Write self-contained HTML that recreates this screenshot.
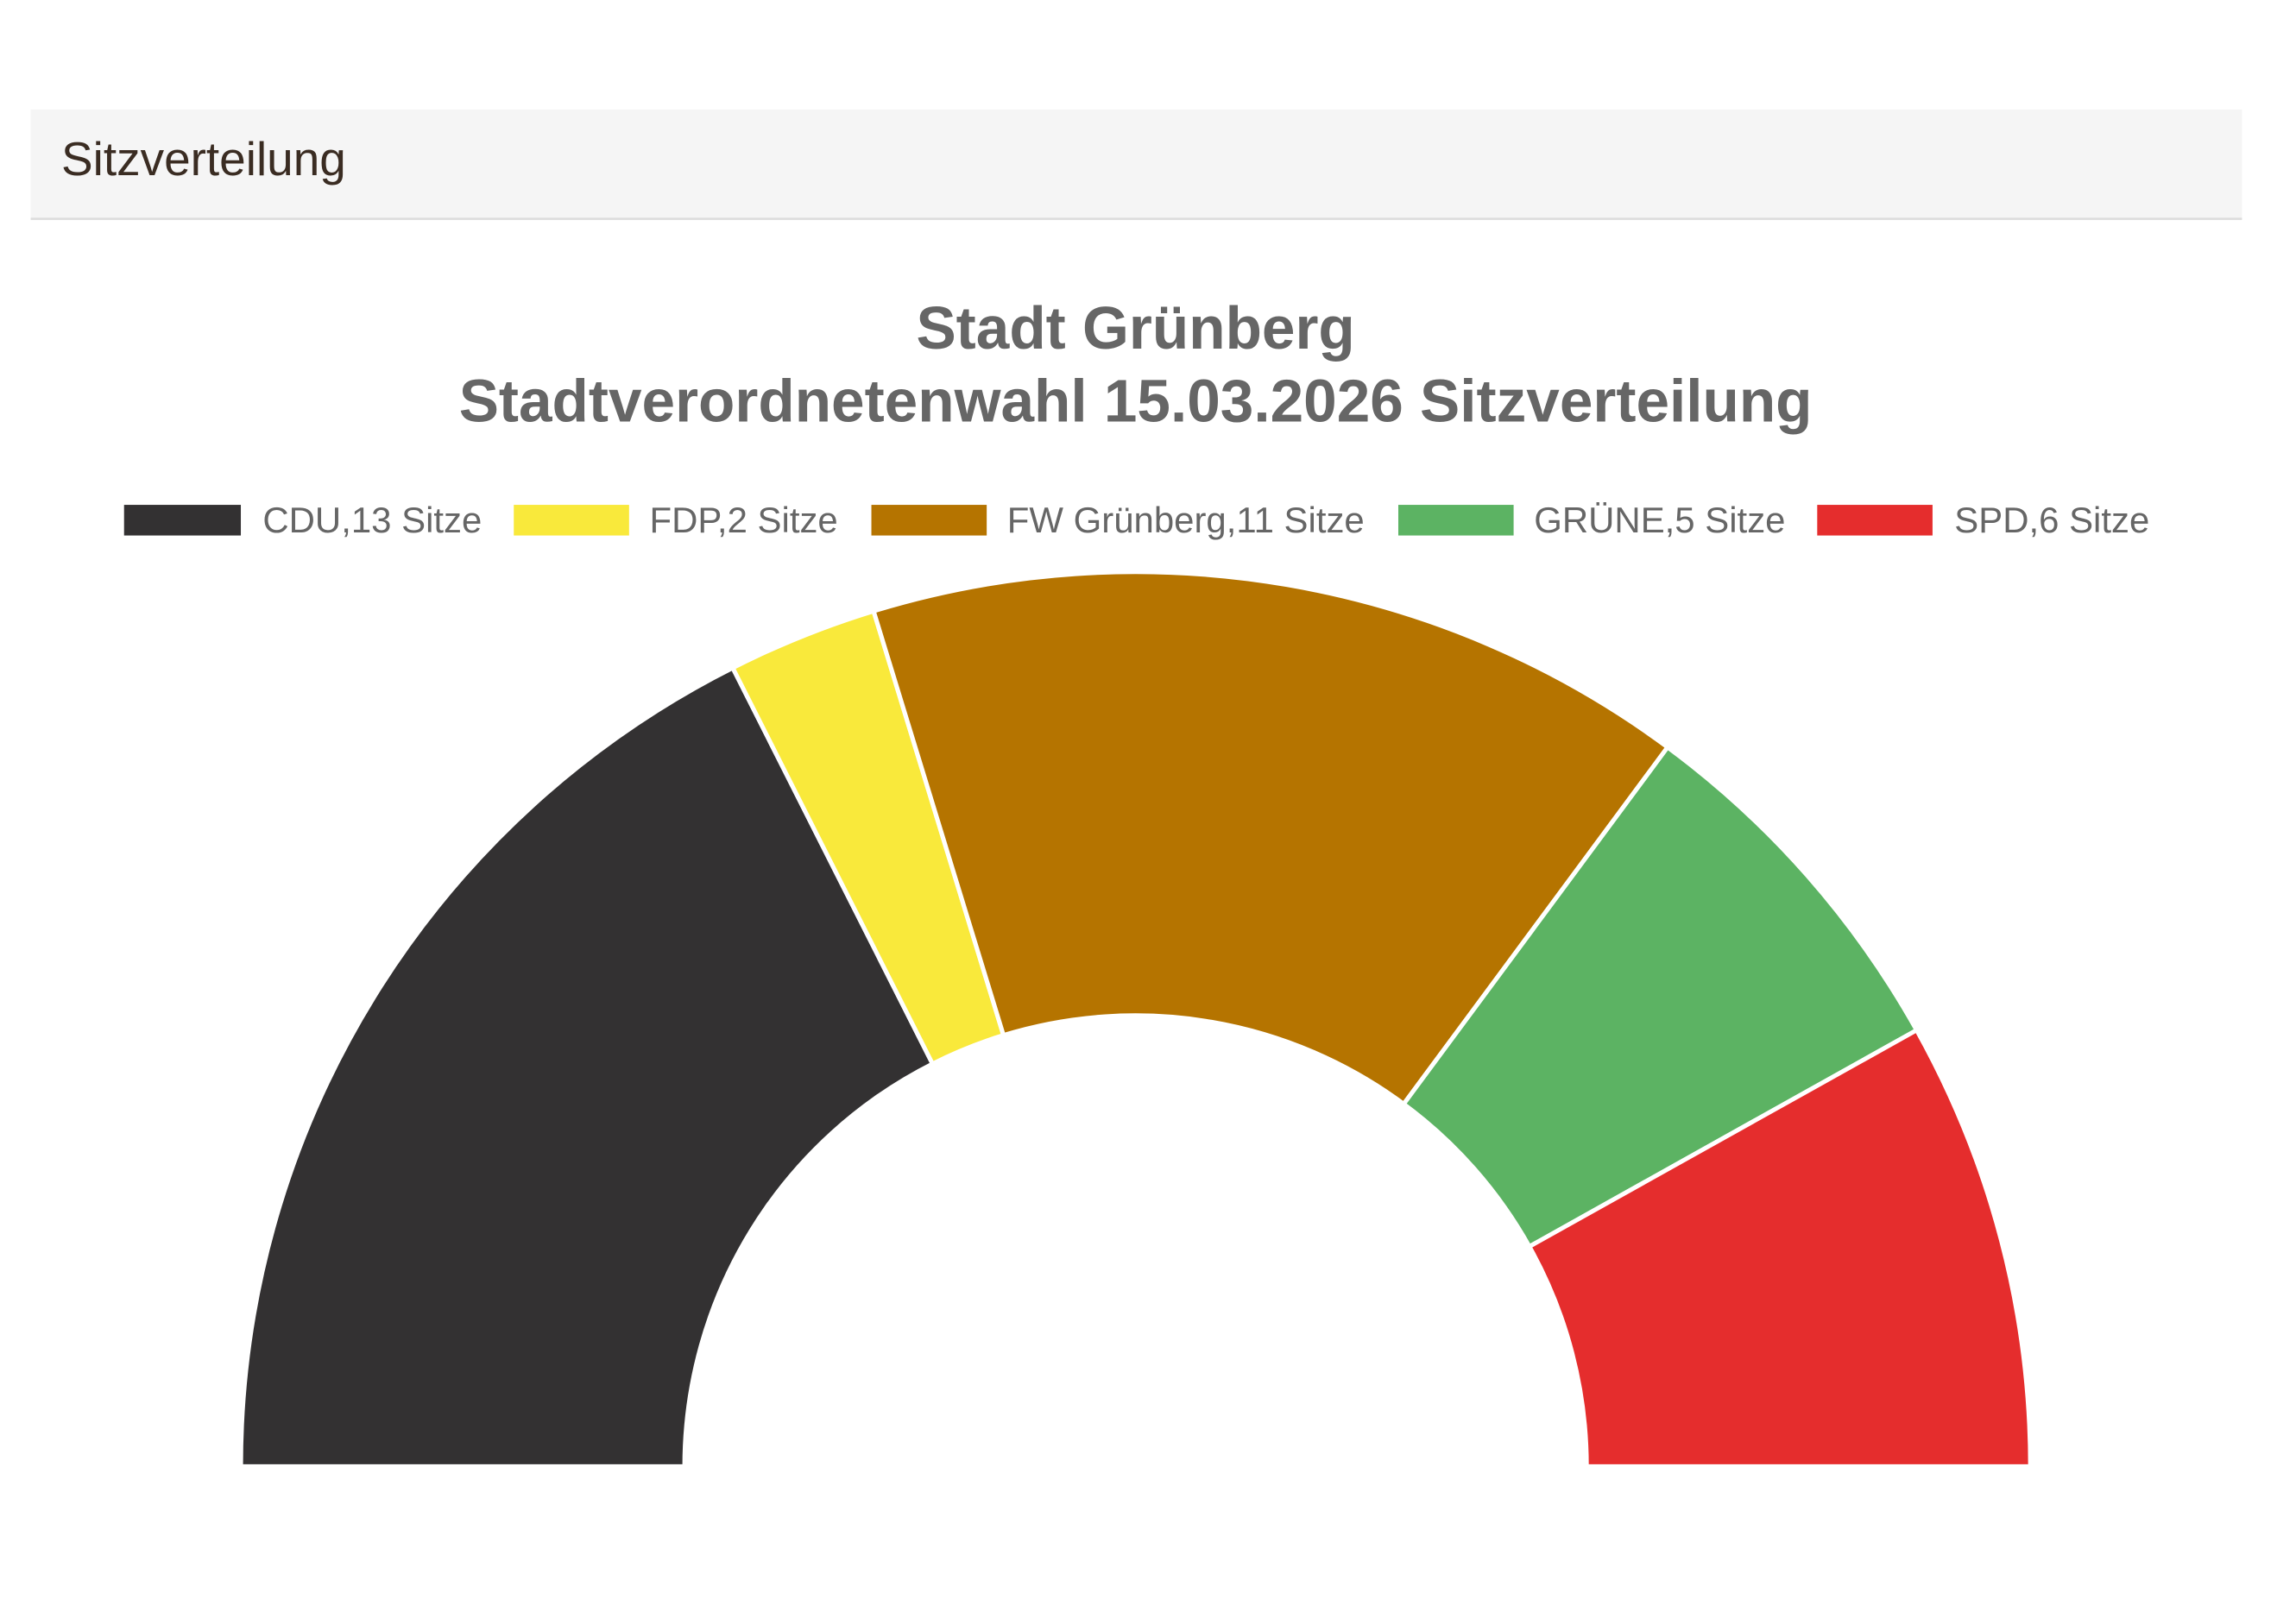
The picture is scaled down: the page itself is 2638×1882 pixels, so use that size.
<!DOCTYPE html>
<html><head><meta charset="utf-8"><style>
html,body{margin:0;padding:0;background:#fff;}
svg{display:block;}
</style></head><body>
<svg width="2638" height="1882" viewBox="0 0 1560 1113" preserveAspectRatio="none" xmlns="http://www.w3.org/2000/svg">
<rect x="0" y="0" width="1560" height="1113" fill="#fff"/>
<rect x="21" y="75" width="1515" height="75" fill="#f5f5f5"/>
<line x1="21" y1="150" x2="1536" y2="150" stroke="#dcdcdc" stroke-width="1.5"/>
<text x="42" y="120" font-family="Liberation Sans, sans-serif" font-size="32.5" fill="#3a2c22">Sitzverteilung</text>
<g font-family="Liberation Sans, sans-serif" font-weight="bold" font-size="41" fill="#666" text-anchor="middle">
<text x="778" y="239">Stadt Grünberg</text>
<text x="778" y="289">Stadtverordnetenwahl 15.03.2026 Sitzverteilung</text>
</g>
<g font-family="Liberation Sans, sans-serif" font-size="24.8" fill="#666">
<rect x="85" y="346" width="80" height="21" fill="#333132"/><text x="180" y="365">CDU,13 Sitze</text>
<rect x="352" y="346" width="79" height="21" fill="#f9e93b"/><text x="445" y="365">FDP,2 Sitze</text>
<rect x="597" y="346" width="79" height="21" fill="#b57400"/><text x="690" y="365">FW Grünberg,11 Sitze</text>
<rect x="958" y="346" width="79" height="21" fill="#5cb363"/><text x="1051" y="365">GRÜNE,5 Sitze</text>
<rect x="1245" y="346" width="79" height="21" fill="#e52d2d"/><text x="1339" y="365">SPD,6 Sitze</text>
</g>
<g stroke="#fff" stroke-width="3" stroke-linejoin="round">
<path d="M165,1005 A613,613 0 0 1 502.0,457.7 L638.9,729.1 A309,309 0 0 0 469,1005 Z" fill="#333132"/>
<path d="M502.0,457.7 A613,613 0 0 1 598.5,418.8 L687.5,709.5 A309,309 0 0 0 638.9,729.1 Z" fill="#f9e93b"/>
<path d="M598.5,418.8 A613,613 0 0 1 1142.5,512.1 L961.7,756.6 A309,309 0 0 0 687.5,709.5 Z" fill="#b57400"/>
<path d="M1142.5,512.1 A613,613 0 0 1 1313.1,706.0 L1047.8,854.3 A309,309 0 0 0 961.7,756.6 Z" fill="#5cb363"/>
<path d="M1313.1,706.0 A613,613 0 0 1 1391,1005 L1087,1005 A309,309 0 0 0 1047.8,854.3 Z" fill="#e52d2d"/>
</g>
</svg>
</body></html>
